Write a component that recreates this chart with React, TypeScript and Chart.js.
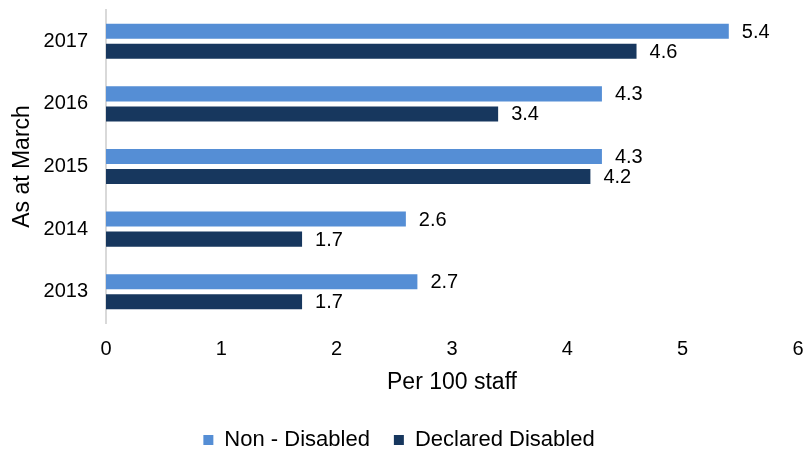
import React, { useEffect, useRef } from "react";
import { Chart, registerables } from "chart.js";

Chart.register(...registerables);

const categories = ["2017", "2016", "2015", "2014", "2013"];
const nonDisabled = [5.4, 4.3, 4.3, 2.6, 2.7];
const declaredDisabled = [4.6, 3.4, 4.2, 1.7, 1.7];
const seriesNames = ["Non - Disabled", "Declared Disabled"];
const xTicks = [0, 1, 2, 3, 4, 5, 6];

const FONT = "'Liberation Sans', Arial, sans-serif";

const labelPlugin = {
  id: "barLabels",
  afterDatasetsDraw(chart: any) {
    const ctx = chart.ctx;
    ctx.save();
    ctx.font = `20px ${FONT}`;
    ctx.fillStyle = "#000";
    ctx.textBaseline = "middle";
    ctx.textAlign = "left";
    chart.data.datasets.forEach((ds: any, di: number) => {
      const meta = chart.getDatasetMeta(di);
      meta.data.forEach((el: any, i: number) => {
        ctx.fillText(Number(ds.data[i]).toFixed(1), el.x + 13, el.y + 1);
      });
    });
    ctx.restore();
  },
};

export default function App() {
  const ref = useRef<HTMLCanvasElement>(null);
  useEffect(() => {
    const common = { categoryPercentage: 0.64, barPercentage: 0.75 };
    const chart = new Chart(ref.current!, {
      type: "bar",
      data: {
        labels: categories,
        datasets: [
          { label: seriesNames[0], data: nonDisabled, backgroundColor: "#558ED5", ...common },
          { label: seriesNames[1], data: declaredDisabled, backgroundColor: "#17375E", ...common },
        ],
      },
      options: {
        indexAxis: "y",
        animation: false,
        responsive: false,
        layout: { padding: { left: 0, right: 7, top: 10, bottom: -8 } },
        scales: {
          x: {
            min: 0,
            max: 6,
            afterBuildTicks: (axis: any) => {
              axis.ticks = xTicks.map((v) => ({ value: v }));
            },
            afterFit: (axis: any) => {
              axis.height = 82;
            },
            grid: { display: false, drawTicks: true, tickLength: 16 },
            border: { display: false },
            ticks: { color: "#000", font: { family: FONT, size: 20, lineHeight: 1 }, padding: 0 },
            title: {
              display: true,
              text: "Per 100 staff",
              color: "#000",
              font: { family: FONT, size: 23 },
              padding: { top: 0, bottom: 9 },
            },
          },
          y: {
            afterFit: (axis: any) => {
              axis.width = 106;
            },
            grid: { display: false, drawTicks: true, tickLength: 18 },
            border: { display: true, color: "#D9D9D9", width: 2 },
            ticks: { color: "#000", font: { family: FONT, size: 20, lineHeight: 1 }, padding: 0 },
            title: {
              display: true,
              text: "As at March",
              color: "#000",
              font: { family: FONT, size: 23 },
              padding: { top: 9, bottom: 0 },
            },
          },
        },
        plugins: {
          legend: {
            position: "bottom",
            labels: {
              boxWidth: 10,
              boxHeight: 10,
              color: "#000",
              font: { family: FONT, size: 22 },
              padding: 24,
            },
          },
          tooltip: { enabled: false },
        },
      },
      plugins: [labelPlugin],
    } as any);
    return () => chart.destroy();
  }, []);
  return (
    <div style={{ position: "absolute", left: 0, top: 0, width: 805, height: 453, background: "#fff" }}>
      <canvas ref={ref} width={805} height={453} />
    </div>
  );
}
